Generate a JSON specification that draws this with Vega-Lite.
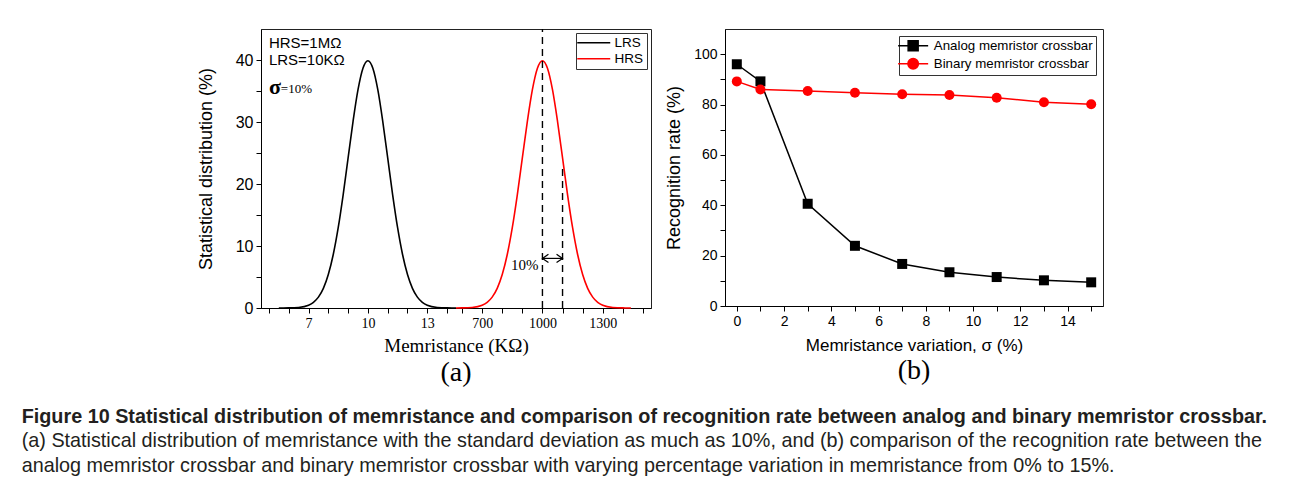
{
  "$schema": "https://vega.github.io/schema/vega-lite/v6.json",
  "background": "white",
  "padding": {"left": 21, "top": 27, "right": 5, "bottom": 5},
  "title": {
    "text": "Figure 10 Statistical distribution of memristance and comparison of recognition rate between analog and binary memristor crossbar.",
    "subtitle": ["(a) Statistical distribution of memristance with the standard deviation as much as 10%, and (b) comparison of the recognition rate between the", "analog memristor crossbar and binary memristor crossbar with varying percentage variation in memristance from 0% to 15%."],
    "orient": "bottom", "anchor": "start", "dx": -175, "offset": 19,
    "font": "Liberation Sans", "fontSize": 19.8, "fontWeight": "bold", "color": "#231f20",
    "subtitleFont": "Liberation Sans", "subtitleFontSize": 19.8, "subtitleColor": "#231f20", "subtitlePadding": 5, "subtitleLineHeight": 24.5
  },
  "spacing": 13,
  "resolve": {"scale": {"color": "independent", "shape": "independent", "stroke": "independent", "fill": "independent"}, "legend": {"color": "independent", "shape": "independent", "stroke": "independent", "fill": "independent"}},
  "hconcat": [
    {
      "width": 390,
      "height": 279,
      "title": {"text": "(a)", "orient": "bottom", "font": "Liberation Serif", "fontSize": 28, "fontWeight": "normal", "color": "black", "offset": 4, "anchor": "middle"},
      "encoding": {
        "x": {"field": "R", "type": "quantitative",
              "scale": {"domain": [4.6, 14.45, 570, 1540], "range": [0, 195, 195, 390], "nice": false, "zero": false},
              "title": "Memristance (KΩ)",
              "axis": {"values": [5,6,7,8,9,10,11,12,13,14,600,700,800,900,1000,1100,1200,1300,1400,1500],
                       "format": "d",
                       "labelExpr": "indexof([7,10,13,700,1000,1300], datum.value) >= 0 ? datum.label : ''",
                       "labelOverlap": false, "labelFlush": false,
                       "labelFont": "Liberation Serif", "labelFontSize": 14, "labelPadding": 3,
                       "titleFont": "Liberation Serif", "titleFontSize": 19, "titlePadding": 6}},
        "y": {"field": "pct", "type": "quantitative",
              "scale": {"domain": [0, 45], "nice": false, "zero": false},
              "title": "Statistical distribution (%)",
              "axis": {"values": [0,5,10,15,20,25,30,35,40],
                       "labelExpr": "datum.value % 10 == 0 ? datum.label : ''",
                       "labelOverlap": false, "labelFlush": false,
                       "labelFont": "Liberation Sans", "labelFontSize": 16, "labelPadding": 3,
                       "titleFont": "Liberation Sans", "titleFontSize": 18, "titlePadding": 20}}
      },
      "layer": [
        {
          "data": {"values": [
            {"state": "LRS", "R": 5.5, "pct": 0.002}, {"state": "LRS", "R": 6, "pct": 0.013}, {"state": "LRS", "R": 6.5, "pct": 0.087},
            {"state": "LRS", "R": 7, "pct": 0.44}, {"state": "LRS", "R": 7.25, "pct": 0.91}, {"state": "LRS", "R": 7.5, "pct": 1.75},
            {"state": "LRS", "R": 7.75, "pct": 3.17}, {"state": "LRS", "R": 8, "pct": 5.4}, {"state": "LRS", "R": 8.25, "pct": 8.63},
            {"state": "LRS", "R": 8.5, "pct": 12.95}, {"state": "LRS", "R": 8.75, "pct": 18.26}, {"state": "LRS", "R": 9, "pct": 24.2},
            {"state": "LRS", "R": 9.25, "pct": 30.11}, {"state": "LRS", "R": 9.5, "pct": 35.21}, {"state": "LRS", "R": 9.75, "pct": 38.67},
            {"state": "LRS", "R": 10, "pct": 39.89}, {"state": "LRS", "R": 10.25, "pct": 38.67}, {"state": "LRS", "R": 10.5, "pct": 35.21},
            {"state": "LRS", "R": 10.75, "pct": 30.11}, {"state": "LRS", "R": 11, "pct": 24.2}, {"state": "LRS", "R": 11.25, "pct": 18.26},
            {"state": "LRS", "R": 11.5, "pct": 12.95}, {"state": "LRS", "R": 11.75, "pct": 8.63}, {"state": "LRS", "R": 12, "pct": 5.4},
            {"state": "LRS", "R": 12.25, "pct": 3.17}, {"state": "LRS", "R": 12.5, "pct": 1.75}, {"state": "LRS", "R": 12.75, "pct": 0.91},
            {"state": "LRS", "R": 13, "pct": 0.44}, {"state": "LRS", "R": 13.5, "pct": 0.087}, {"state": "LRS", "R": 14, "pct": 0.013},
            {"state": "LRS", "R": 14.45, "pct": 0.002},
            {"state": "HRS", "R": 570, "pct": 0.002}, {"state": "HRS", "R": 600, "pct": 0.013}, {"state": "HRS", "R": 650, "pct": 0.087},
            {"state": "HRS", "R": 700, "pct": 0.44}, {"state": "HRS", "R": 725, "pct": 0.91}, {"state": "HRS", "R": 750, "pct": 1.75},
            {"state": "HRS", "R": 775, "pct": 3.17}, {"state": "HRS", "R": 800, "pct": 5.4}, {"state": "HRS", "R": 825, "pct": 8.63},
            {"state": "HRS", "R": 850, "pct": 12.95}, {"state": "HRS", "R": 875, "pct": 18.26}, {"state": "HRS", "R": 900, "pct": 24.2},
            {"state": "HRS", "R": 925, "pct": 30.11}, {"state": "HRS", "R": 950, "pct": 35.21}, {"state": "HRS", "R": 975, "pct": 38.67},
            {"state": "HRS", "R": 1000, "pct": 39.89}, {"state": "HRS", "R": 1025, "pct": 38.67}, {"state": "HRS", "R": 1050, "pct": 35.21},
            {"state": "HRS", "R": 1075, "pct": 30.11}, {"state": "HRS", "R": 1100, "pct": 24.2}, {"state": "HRS", "R": 1125, "pct": 18.26},
            {"state": "HRS", "R": 1150, "pct": 12.95}, {"state": "HRS", "R": 1175, "pct": 8.63}, {"state": "HRS", "R": 1200, "pct": 5.4},
            {"state": "HRS", "R": 1225, "pct": 3.17}, {"state": "HRS", "R": 1250, "pct": 1.75}, {"state": "HRS", "R": 1275, "pct": 0.91},
            {"state": "HRS", "R": 1300, "pct": 0.44}, {"state": "HRS", "R": 1350, "pct": 0.087}, {"state": "HRS", "R": 1400, "pct": 0.013},
            {"state": "HRS", "R": 1440, "pct": 0.002}
          ]},
          "mark": {"type": "line", "strokeWidth": 1.6, "interpolate": "monotone"},
          "encoding": {
            "color": {"field": "state", "type": "nominal",
                      "scale": {"domain": ["LRS", "HRS"], "range": ["black", "#ff0000"]},
                      "legend": {"title": null, "orient": "top-right", "offset": 4,
                                 "symbolType": "M-3,0H3", "symbolSize": 121, "symbolStrokeWidth": 1.6,
                                 "symbolOffset": 8, "labelOffset": 14,
                                 "labelFont": "Liberation Sans", "labelFontSize": 13.5, "labelColor": "black",
                                 "strokeColor": "#333", "padding": 3, "rowPadding": 1}}
          }
        },
        {
          "data": {"values": [{"R": 1000, "pct": 0, "top": 45}, {"R": 1100, "pct": 0, "top": 23}]},
          "mark": {"type": "rule", "color": "black", "strokeWidth": 1.4, "strokeDash": [7, 5]},
          "encoding": {"y2": {"field": "top"}}
        },
        {
          "data": {"values": [{"R": 1000, "R2": 1100, "pct": 8}]},
          "mark": {"type": "rule", "color": "black", "strokeWidth": 1.2},
          "encoding": {"x2": {"field": "R2"}}
        },
        {
          "data": {"values": [{"R": 1000, "pct": 8, "dir": "l"}, {"R": 1100, "pct": 8, "dir": "r"}]},
          "mark": {"type": "point", "color": "black", "filled": false, "strokeWidth": 1.2, "size": 36, "opacity": 1},
          "encoding": {"shape": {"field": "dir", "type": "nominal",
                                 "scale": {"domain": ["l", "r"], "range": ["M2,-1.4L0,0L2,1.4", "M-2,-1.4L0,0L-2,1.4"]},
                                 "legend": null}}
        },
        {
          "data": {"values": [{"R": 1000, "pct": 6.9, "label": "10%"}]},
          "mark": {"type": "text", "align": "right", "baseline": "middle", "dx": -4, "font": "Liberation Serif", "fontSize": 15, "color": "black"},
          "encoding": {"text": {"field": "label"}}
        },
        {
          "data": {"values": [{"R": 5.0, "pct": 42.7, "label": "HRS=1MΩ"}, {"R": 5.0, "pct": 40.0, "label": "LRS=10KΩ"}]},
          "mark": {"type": "text", "align": "left", "baseline": "middle", "font": "Liberation Sans", "fontSize": 15, "color": "black"},
          "encoding": {"text": {"field": "label"}}
        },
        {
          "data": {"values": [{"R": 5.0, "pct": 35.6, "label": "σ"}]},
          "mark": {"type": "text", "align": "left", "baseline": "middle", "font": "Liberation Serif", "fontSize": 22, "fontWeight": "bold", "color": "black"},
          "encoding": {"text": {"field": "label"}}
        },
        {
          "data": {"values": [{"R": 5.6, "pct": 35.3, "label": "=10%"}]},
          "mark": {"type": "text", "align": "left", "baseline": "middle", "font": "Liberation Serif", "fontSize": 13, "color": "black"},
          "encoding": {"text": {"field": "label"}}
        }
      ]
    },
    {
      "width": 378,
      "height": 277,
      "title": {"text": "(b)", "orient": "bottom", "font": "Liberation Serif", "fontSize": 28, "fontWeight": "normal", "color": "black", "offset": 4, "anchor": "middle"},
      "data": {"values": [
        {"series": "Analog memristor crossbar", "sigma": 0, "rate": 96.0},
        {"series": "Analog memristor crossbar", "sigma": 1, "rate": 89.2},
        {"series": "Analog memristor crossbar", "sigma": 3, "rate": 40.6},
        {"series": "Analog memristor crossbar", "sigma": 5, "rate": 23.9},
        {"series": "Analog memristor crossbar", "sigma": 7, "rate": 16.7},
        {"series": "Analog memristor crossbar", "sigma": 9, "rate": 13.4},
        {"series": "Analog memristor crossbar", "sigma": 11, "rate": 11.5},
        {"series": "Analog memristor crossbar", "sigma": 13, "rate": 10.2},
        {"series": "Analog memristor crossbar", "sigma": 15, "rate": 9.4},
        {"series": "Binary memristor crossbar", "sigma": 0, "rate": 89.2},
        {"series": "Binary memristor crossbar", "sigma": 1, "rate": 86.0},
        {"series": "Binary memristor crossbar", "sigma": 3, "rate": 85.4},
        {"series": "Binary memristor crossbar", "sigma": 5, "rate": 84.7},
        {"series": "Binary memristor crossbar", "sigma": 7, "rate": 84.1},
        {"series": "Binary memristor crossbar", "sigma": 9, "rate": 83.8},
        {"series": "Binary memristor crossbar", "sigma": 11, "rate": 82.7},
        {"series": "Binary memristor crossbar", "sigma": 13, "rate": 80.9},
        {"series": "Binary memristor crossbar", "sigma": 15, "rate": 80.1}
      ]},
      "encoding": {
        "x": {"field": "sigma", "type": "quantitative",
              "scale": {"domain": [-0.5, 15.5], "nice": false, "zero": false},
              "title": "Memristance variation, σ (%)",
              "axis": {"values": [0,1,2,3,4,5,6,7,8,9,10,11,12,13,14,15],
                       "labelExpr": "datum.value % 2 == 0 ? datum.label : ''",
                       "labelOverlap": false, "labelFlush": false,
                       "labelFont": "Liberation Sans", "labelFontSize": 14, "labelPadding": 3,
                       "titleFont": "Liberation Sans", "titleFontSize": 17, "titlePadding": 9}},
        "y": {"field": "rate", "type": "quantitative",
              "scale": {"domain": [0, 110], "nice": false, "zero": false},
              "title": "Recognition rate (%)",
              "axis": {"values": [0,10,20,30,40,50,60,70,80,90,100],
                       "labelExpr": "datum.value % 20 == 0 ? datum.label : ''",
                       "labelOverlap": false, "labelFlush": false,
                       "labelFont": "Liberation Sans", "labelFontSize": 14, "labelPadding": 3,
                       "titleFont": "Liberation Sans", "titleFontSize": 18, "titlePadding": 10}}
      },
      "layer": [
        {"mark": {"type": "line", "strokeWidth": 1.5},
         "encoding": {"stroke": {"field": "series", "type": "nominal",
                                 "scale": {"domain": ["Analog memristor crossbar", "Binary memristor crossbar"], "range": ["black", "#ff0000"]},
                                 "legend": {"title": null, "orient": "top-right", "offset": 7,
                                            "symbolSize": 100, "symbolOffset": 4.5, "labelOffset": 14, "symbolOpacity": 1, "symbolStrokeWidth": 1.5,
                                            "labelFont": "Liberation Sans", "labelFontSize": 13.3, "labelColor": "black", "labelLimit": 400,
                                            "strokeColor": "#333", "padding": 3, "rowPadding": 1}}}},
        {"mark": {"type": "point", "filled": true, "size": 0, "opacity": 1},
         "encoding": {
           "stroke": {"field": "series", "type": "nominal",
                      "scale": {"domain": ["Analog memristor crossbar", "Binary memristor crossbar"], "range": ["black", "#ff0000"]},
                      "legend": {"title": null, "orient": "top-right", "offset": 7,
                                 "symbolSize": 100, "symbolOffset": 4.5, "labelOffset": 14, "symbolOpacity": 1, "symbolStrokeWidth": 1.5,
                                 "labelFont": "Liberation Sans", "labelFontSize": 13.3, "labelColor": "black", "labelLimit": 400,
                                 "strokeColor": "#333", "padding": 3, "rowPadding": 1}},
           "fill": {"field": "series", "type": "nominal",
                    "scale": {"domain": ["Analog memristor crossbar", "Binary memristor crossbar"], "range": ["black", "#ff0000"]},
                    "legend": {"title": null, "orient": "top-right", "offset": 7,
                               "symbolSize": 100, "symbolOffset": 4.5, "labelOffset": 14, "symbolOpacity": 1, "symbolStrokeWidth": 1.5,
                               "labelFont": "Liberation Sans", "labelFontSize": 13.3, "labelColor": "black", "labelLimit": 400,
                               "strokeColor": "#333", "padding": 3, "rowPadding": 1}},
           "shape": {"field": "series", "type": "nominal",
                     "scale": {"domain": ["Analog memristor crossbar", "Binary memristor crossbar"], "range": ["M-3,0H3M-1,-1H1V1H-1Z", "M-3,0H3M1.05,0A1.05,1.05,0,1,1,-1.05,0A1.05,1.05,0,1,1,1.05,0Z"]},
                     "legend": {"title": null, "orient": "top-right", "offset": 7,
                                "symbolSize": 100, "symbolOffset": 4.5, "labelOffset": 14, "symbolOpacity": 1, "symbolStrokeWidth": 1.5,
                                "labelFont": "Liberation Sans", "labelFontSize": 13.3, "labelColor": "black", "labelLimit": 400,
                                "strokeColor": "#333", "padding": 3, "rowPadding": 1}}
         }},
        {"transform": [{"filter": "datum.series === 'Analog memristor crossbar'"}],
         "mark": {"type": "point", "shape": "square", "filled": true, "size": 100, "opacity": 1, "color": "black"}},
        {"transform": [{"filter": "datum.series === 'Binary memristor crossbar'"}],
         "mark": {"type": "point", "shape": "circle", "filled": true, "size": 100, "opacity": 1, "color": "#ff0000"}}
      ]
    }
  ],
  "config": {
    "view": {"stroke": "#222", "strokeWidth": 1},
    "axis": {"domainColor": "black", "tickColor": "black", "labelColor": "black", "titleColor": "black", "grid": false, "tickSize": 5, "titleFontWeight": "normal", "domainWidth": 1, "tickWidth": 1}
  }
}
